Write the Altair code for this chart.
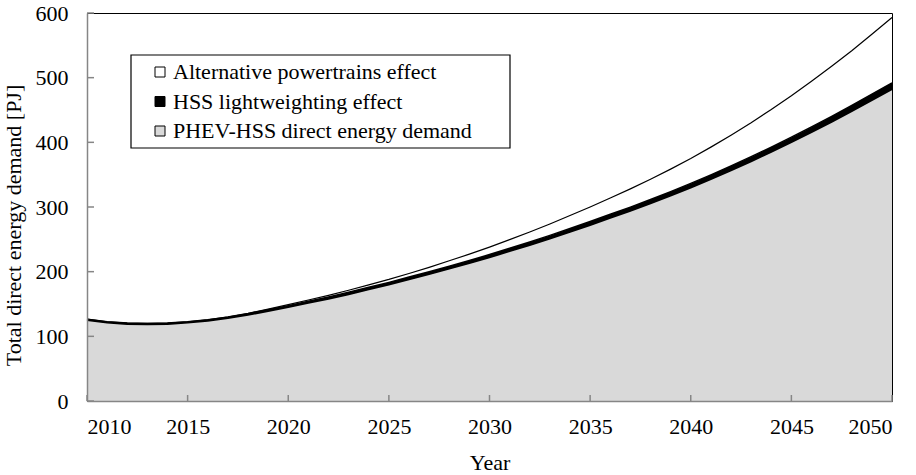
import altair as alt
import pandas as pd

# Annual values, PJ
years = [2010, 2011, 2012, 2013, 2014, 2015, 2016, 2017, 2018, 2019, 2020,
         2021, 2022, 2023, 2024, 2025, 2026, 2027, 2028, 2029, 2030,
         2031, 2032, 2033, 2034, 2035, 2036, 2037, 2038, 2039, 2040,
         2041, 2042, 2043, 2044, 2045, 2046, 2047, 2048, 2049, 2050]

phev_hss = [125.0, 121.0, 119.0, 118.5, 119.0, 121.0, 124.0, 128.0, 133.0, 139.0, 145.0,
            151.5, 158.0, 165.0, 172.5, 180.0, 188.0, 196.0, 204.5, 213.0, 222.0,
            231.5, 241.0, 251.0, 261.5, 272.0, 283.0, 294.0, 305.5, 317.5, 330.0,
            343.0, 356.5, 370.5, 385.0, 400.0, 415.5, 431.5, 448.0, 465.0, 482.0]

hss_effect = [1.5, 1.5, 1.5, 1.5, 1.5, 1.5, 1.5, 1.7, 2.0, 2.2, 2.5,
              2.7, 2.9, 3.1, 3.3, 3.5, 3.7, 3.9, 4.1, 4.3, 4.5,
              4.7, 4.9, 5.1, 5.3, 5.5, 5.7, 5.9, 6.1, 6.3, 6.5,
              6.8, 7.1, 7.4, 7.7, 8.0, 8.4, 8.8, 9.2, 9.6, 10.0]

alt_effect = [0.0, 0.0, 0.0, 0.0, 0.0, 0.0, 0.0, 0.3, 0.6, 1.0, 1.5,
              2.0, 2.5, 3.2, 3.8, 4.5, 5.5, 6.8, 8.2, 9.8, 11.5,
              13.4, 15.5, 17.6, 20.0, 22.5, 25.3, 28.2, 31.4, 34.8, 38.5,
              42.8, 47.5, 52.5, 58.0, 64.0, 70.5, 77.5, 84.5, 92.5, 101.0]

series_names = ["PHEV-HSS direct energy demand",
                "HSS lightweighting effect",
                "Alternative powertrains effect"]
legend_order = ["Alternative powertrains effect",
                "HSS lightweighting effect",
                "PHEV-HSS direct energy demand"]
fills = ["white", "black", "#d9d9d9"]

x_ticks = [2010, 2015, 2020, 2025, 2030, 2035, 2040, 2045, 2050]
y_ticks = [0, 100, 200, 300, 400, 500, 600]

# stacked bands: lo/hi bounds per year and series
rows = []
for i, yr in enumerate(years):
    lo = 0.0
    for name, vals in zip(series_names, [phev_hss, hss_effect, alt_effect]):
        hi = lo + vals[i]
        rows.append({"year": yr, "series": name, "lo": lo, "hi": hi})
        lo = hi
df = pd.DataFrame(rows)

FONT = "Liberation Serif"
FS = 22
AXIS_GREY = "#868686"
W, H = 805, 388

x_scale = alt.Scale(domain=[2010, 2050], nice=False, zero=False)
y_scale = alt.Scale(domain=[0, 600], nice=False)

areas = alt.Chart(df).mark_area(strokeWidth=0).encode(
    x=alt.X("year:Q", scale=x_scale,
            axis=alt.Axis(values=x_ticks, format="d", title="Year",
                          ticks=False, tickSize=0, labelPadding=15,
                          domainColor=AXIS_GREY, domainWidth=1.5,
                          titlePadding=15, grid=False, zindex=1)),
    y=alt.Y("hi:Q", scale=y_scale,
            axis=alt.Axis(values=y_ticks, format="d",
                          title="Total direct energy demand [PJ]",
                          ticks=False, tickSize=0, labelPadding=19,
                          domainColor=AXIS_GREY, domainWidth=1.5,
                          titlePadding=10, titleY=212,
                          grid=False, zindex=1)),
    y2="lo:Q",
    fill=alt.Fill("series:N",
                  scale=alt.Scale(domain=legend_order, range=fills),
                  legend=alt.Legend(
                      title=None, orient="none", legendX=44, legendY=42,
                      direction="vertical",
                      symbolType="square", symbolSize=100,
                      symbolStrokeColor="black", symbolStrokeWidth=1,
                      symbolOffset=12, labelOffset=2,
                      labelFont=FONT, labelFontSize=FS, labelColor="black",
                      labelLimit=0, rowPadding=7.5, padding=6)),
)

# boundary lines on top of each band
lines = alt.Chart(df).mark_line(color="black").encode(
    x="year:Q",
    y="hi:Q",
    detail="series:N",
    strokeWidth=alt.StrokeWidth(
        "series:N",
        scale=alt.Scale(domain=series_names, range=[1.7, 1.2, 1.0]),
        legend=None),
)

# short tick marks pointing into the plot
x_tick_marks = alt.Chart(pd.DataFrame({"year": x_ticks})).mark_rule(
    color=AXIS_GREY, strokeWidth=1.5
).encode(x="year:Q", y=alt.value(H), y2=alt.value(H - 6))

y_tick_marks = alt.Chart(pd.DataFrame({"hi": y_ticks})).mark_rule(
    color=AXIS_GREY, strokeWidth=1.5
).encode(y="hi:Q", x=alt.value(0), x2=alt.value(7))

# frame around the legend
legend_frame = alt.Chart(pd.DataFrame({"k": [0]})).mark_rect(
    fill="white", stroke="black", strokeWidth=1.2
).encode(x=alt.value(44), x2=alt.value(423), y=alt.value(42), y2=alt.value(135))

chart = alt.layer(
    areas, lines, x_tick_marks, y_tick_marks, legend_frame
).resolve_legend(
    strokeWidth="independent"
).properties(
    width=W, height=H,
    autosize=alt.AutoSizeParams(type="none"),
    padding={"left": 87, "top": 13, "right": 24, "bottom": 74},
    background="white",
).configure_view(
    stroke="black", strokeWidth=1
).configure_axis(
    labelFont=FONT, labelFontSize=FS, labelColor="black",
    titleFont=FONT, titleFontSize=FS, titleFontWeight="normal",
    titleColor="black",
)

chart.save("out.html", embed_options={"renderer": "svg", "actions": False})
